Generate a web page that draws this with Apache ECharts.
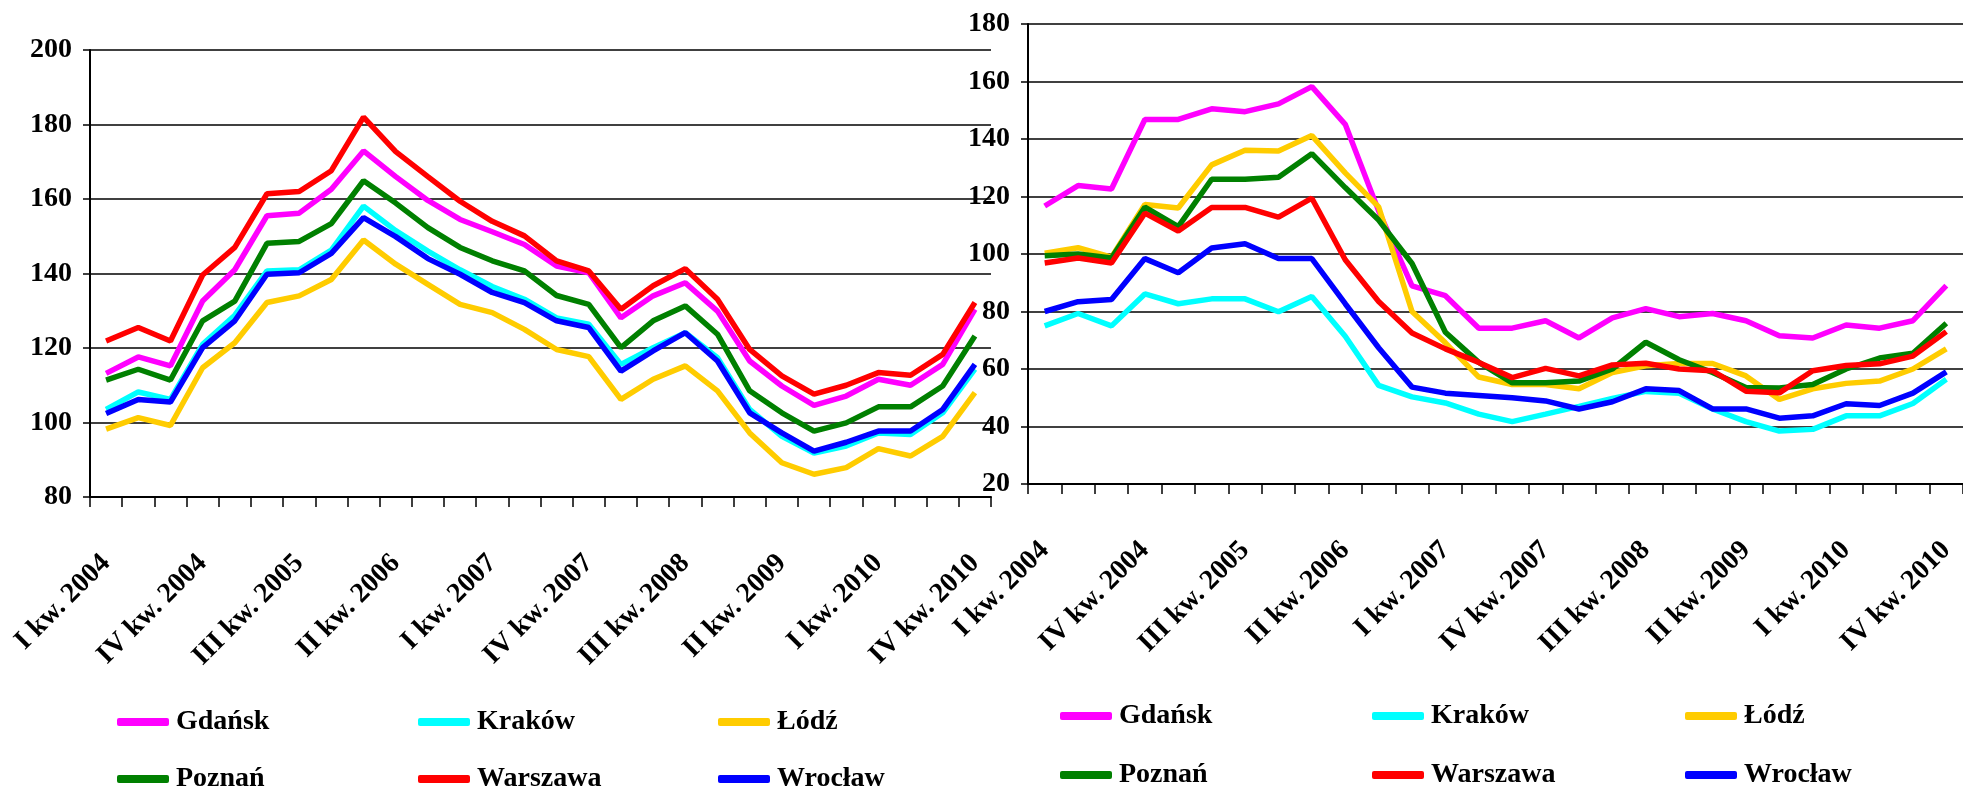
<!DOCTYPE html>
<html><head><meta charset="utf-8">
<script src="https://cdn.jsdelivr.net/npm/echarts@6/dist/echarts.min.js"></script>
<style>html,body{margin:0;padding:0;background:#fff}#c{width:1963px;height:794px}</style>
</head><body><div id="c"></div>
<script>
const roman = ['I','II','III','IV'];
const categories = [];
for (let y = 2004; y <= 2010; y++) for (let q = 0; q < 4; q++) categories.push(roman[q] + ' kw. ' + y);

const cities = ['Gdańsk','Kraków','Łódź','Poznań','Warszawa','Wrocław'];
const colors = ['#FF00FF','#00FFFF','#FFCC00','#008000','#FF0000','#0000FF'];

// Left chart
const gdanskL   = [113.2,117.6,115.2,132.6,141,155.5,156.2,162.6,172.9,166,159.6,154.5,151.2,147.8,142,140.2,128.1,134,137.5,129.9,116.5,109.8,104.6,107.1,111.6,110,115.6,130.4];
const krakowL   = [103.5,108.2,106.2,121,128.8,140.7,141,146.3,158.1,151.5,146,141,136.5,133.1,128.1,126.4,115.6,120.1,124.1,117.4,103.5,96.3,91.8,93.7,97.2,96.8,102.6,114.3];
const lodzL     = [98.2,101.3,99.2,114.7,121.4,132.2,134,138.4,149,142.5,137.1,131.7,129.5,125,119.6,117.7,106.2,111.6,115.2,108.5,97.2,89.2,86.1,87.9,93,91,96.3,108];
const poznanL   = [111.4,114.3,111.4,127.3,132.6,148.1,148.6,153.4,164.9,158.9,152.3,147,143.4,140.7,134.1,131.7,120.1,127.3,131.3,123.7,108.5,102.6,97.7,99.9,104.2,104.2,109.8,123.2];
const warszawaL = [121.9,125.5,121.9,139.6,147,161.4,162,167.6,182,172.7,166,159.4,154,150.1,143.4,140.7,130.4,136.7,141.3,133.1,119.6,112.5,107.6,110,113.4,112.7,118.3,132.2];
const wroclawL  = [102.4,106.2,105.5,120.1,127.3,139.8,140.2,145.4,155,149.9,144,139.8,134.9,132.2,127.3,125.5,113.8,119.2,124.1,116.5,102.6,97.2,92.3,94.7,97.7,97.7,103.5,115.6];

// Right chart
const gdanskR   = [116.7,123.8,122.6,146.8,146.8,150.5,149.5,152.2,158.2,145.1,115,88.9,85.5,74.2,74.2,76.8,70.8,77.8,81,78.2,79.3,76.8,71.6,70.8,75.3,74.2,76.8,89];
const krakowR   = [75,79.3,75,86.1,82.7,84.4,84.4,79.9,85.2,71.4,54.3,50.3,48.2,44.3,41.7,44.3,47,49.8,52.2,51.6,46.1,41.7,38.4,39,43.7,43.7,48,56.4];
const lodzR     = [100.3,102.2,98.9,117.2,116,131,136.1,135.8,141.2,128.2,116.4,80,69.1,57.2,54.6,54.6,53.1,58.8,61.1,61.9,61.9,57.6,49.4,53.1,55,55.8,60,67];
const poznanR   = [99.4,100,98.6,116.3,109.5,126,126,126.7,134.9,123.1,111.8,96.7,72.8,62.3,55.2,55.2,55.8,60,69.3,63.2,58.8,53.6,53.4,54.6,60,63.8,65.5,75.9];
const warszawaR = [96.9,98.6,96.9,114.2,108,116.2,116.2,112.8,119.4,98,83.5,72.5,67,62.3,57,60.2,57.6,61.4,62,60,59.4,52.3,51.7,59.4,61.2,61.8,64.5,73];
const wroclawR  = [80,83.4,84.2,98.4,93.5,102.1,103.6,98.4,98.4,82.7,67.4,53.7,51.6,50.8,50,48.9,46.1,48.6,53.1,52.5,46.1,46.1,42.9,43.7,47.9,47.3,51.6,59];

const leftData = [gdanskL, krakowL, lodzL, poznanL, warszawaL, wroclawL];
const rightData = [gdanskR, krakowR, lodzR, poznanR, warszawaR, wroclawR];

const FONT = '"Liberation Serif", "DejaVu Serif", serif';

function xAxis(gi) {
  return {
    type: 'category', gridIndex: gi, data: categories, boundaryGap: true,
    axisLine: {show: true, lineStyle: {color: '#000', width: 2}},
    axisTick: {show: true, interval: 0, length: 10, lineStyle: {color: '#000', width: 1.5}},
    axisLabel: {interval: 2, rotate: 45, margin: 62, color: '#000', fontFamily: FONT, fontWeight: 'bold', fontSize: 28}
  };
}
function yAxis(gi, min, max) {
  return {
    type: 'value', gridIndex: gi, min: min, max: max, interval: 20,
    axisLine: {show: true, lineStyle: {color: '#000', width: 2}},
    axisTick: {show: true, length: 7, lineStyle: {color: '#000', width: 1.5}},
    splitLine: {show: true, lineStyle: {color: '#000', width: 1.5}},
    axisLabel: {margin: 18, color: '#000', fontFamily: FONT, fontWeight: 'bold', fontSize: 28}
  };
}

const series = [];
cities.forEach((c, i) => {
  series.push({name: c, type: 'line', xAxisIndex: 0, yAxisIndex: 0, data: leftData[i], showSymbol: false, symbol: 'none',
    lineStyle: {color: colors[i], width: 5.5}, itemStyle: {color: colors[i]}, silent: true, animation: false});
});
cities.forEach((c, i) => {
  series.push({name: c, type: 'line', xAxisIndex: 1, yAxisIndex: 1, data: rightData[i], showSymbol: false, symbol: 'none',
    lineStyle: {color: colors[i], width: 5.5}, itemStyle: {color: colors[i]}, silent: true, animation: false});
});

const legendPos = [
  // left chart
  [112, 720], [413, 720], [713, 720], [112, 777], [413, 777], [713, 777],
  // right chart
  [1055, 714], [1367, 714], [1680, 714], [1055, 773], [1367, 773], [1680, 773]
];
const legends = legendPos.map((p, k) => ({
  data: [cities[k % 6]], left: p[0], top: p[1] - 17, orient: 'horizontal',
  icon: 'roundRect', itemWidth: 52, itemHeight: 8, selectedMode: false,
  textStyle: {color: '#000', fontFamily: FONT, fontWeight: 'bold', fontSize: 28, padding: [0,0,0,2]}
}));

const chart = echarts.init(document.getElementById('c'), null, {renderer: 'canvas'});
chart.setOption({
  animation: false,
  backgroundColor: '#fff',
  grid: [
    {left: 90, top: 50, width: 901, height: 447, containLabel: false},
    {left: 1028, top: 24, width: 941, height: 460, containLabel: false}
  ],
  xAxis: [xAxis(0), xAxis(1)],
  yAxis: [yAxis(0, 80, 200), yAxis(1, 20, 180)],
  legend: legends,
  series: series
});
</script></body></html>
